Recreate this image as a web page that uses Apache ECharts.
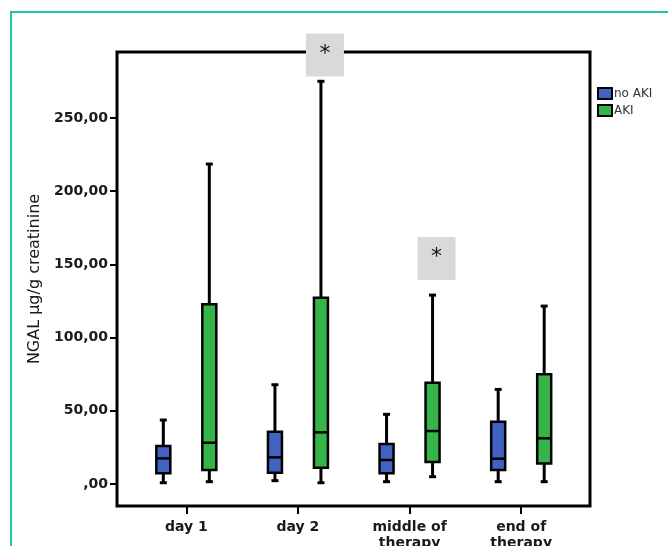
<!DOCTYPE html>
<html>
<head>
<meta charset="utf-8">
<script src="https://cdn.jsdelivr.net/npm/echarts@6/dist/echarts.min.js"></script>
<style>
html,body{margin:0;padding:0;background:#fff;}
#c{width:668px;height:546px;}
</style>
</head>
<body>
<div id="c"></div>
<script>
// ---- data ----
const categories = ['day 1', 'day 2', 'middle of\ntherapy', 'end of\ntherapy'];
// [min, q1, median, q3, max]
const noAKI = [
  [0.9, 7.3, 17.5, 26.0, 43.7],
  [2.3, 7.7, 18.2, 35.7, 67.8],
  [1.6, 7.3, 16.4, 27.3, 47.6],
  [1.6, 9.6, 17.3, 42.5, 64.6]
];
const AKI = [
  [1.6, 9.6, 28.2, 122.7, 218.5],
  [0.9, 11.1, 35.3, 127.2, 275.0],
  [5.0, 15.0, 36.2, 69.2, 129.0],
  [1.6, 14.1, 31.2, 75.0, 121.5]
];
const yTicks = [0, 50, 100, 150, 200, 250];
const yTickLabels = [',00', '50,00', '100,00', '150,00', '200,00', '250,00'];
const sigCategories = [1, 2];      // categories marked significant (*)
const sigLevels = [293, 154];      // vertical position of the * annotations

const chart = echarts.init(document.getElementById('c'));

function toRows(arr) { return arr.map((d, i) => [i].concat(d)); }

function boxRenderer(offset, color) {
  return function (params, api) {
    const c = api.value(0);
    const ys = [1, 2, 3, 4, 5].map(k => api.coord([c, api.value(k)])[1]);
    const x = api.coord([c, 0])[0] + offset;
    const half = 7, cap = 3.5;
    const [yMin, yQ1, yMed, yQ3, yMax] = ys;
    const ln = { stroke: '#000', lineWidth: 3 };
    return {
      type: 'group',
      children: [
        { type: 'line', shape: { x1: x, y1: yMax, x2: x, y2: yQ3 }, style: ln },
        { type: 'line', shape: { x1: x, y1: yQ1, x2: x, y2: yMin }, style: ln },
        { type: 'line', shape: { x1: x - cap, y1: yMax, x2: x + cap, y2: yMax }, style: ln },
        { type: 'line', shape: { x1: x - cap, y1: yMin, x2: x + cap, y2: yMin }, style: ln },
        { type: 'rect', shape: { x: x - half, y: yQ3, width: half * 2, height: yQ1 - yQ3 },
          style: { fill: color, stroke: '#000', lineWidth: 2.5 } },
        { type: 'line', shape: { x1: x - half, y1: yMed, x2: x + half, y2: yMed },
          style: { stroke: '#000', lineWidth: 2.5 } }
      ]
    };
  };
}

const BLUE = '#4162c2';
const GREEN = '#35b549';
const TXT = '#1a1a1a';

chart.setOption({
  animation: false,
  backgroundColor: '#fff',
  grid: { left: 130.5, right: 91, top: 52, bottom: 40, outerBoundsMode: 'none', containLabel: false },
  legend: {
    left: 592, top: 82, orient: 'vertical', itemGap: 4,
    itemWidth: 14, itemHeight: 11, icon: 'rect',
    textStyle: { fontFamily: 'DejaVu Sans', fontSize: 12, color: '#333', padding: [0, 0, 0, -3] },
    data: [
      { name: 'no AKI', itemStyle: { color: BLUE, borderColor: '#000', borderWidth: 2 } },
      { name: 'AKI', itemStyle: { color: GREEN, borderColor: '#000', borderWidth: 2 } }
    ]
  },
  xAxis: {
    type: 'category', data: categories, boundaryGap: true,
    axisLine: { show: false, onZero: false },
    axisTick: { show: true, alignWithLabel: true, length: 8, lineStyle: { color: '#000', width: 2 } },
    axisLabel: { margin: 13, fontFamily: 'DejaVu Sans', fontWeight: 'bold', fontSize: 14, color: TXT, lineHeight: 16 },
    splitLine: { show: false }
  },
  yAxis: {
    type: 'value', min: -15, max: 295, offset: 13.5,
    name: 'NGAL µg/g creatinine', nameLocation: 'middle', nameRotate: 90, nameGap: 74,
    nameTextStyle: { fontFamily: 'DejaVu Sans', fontSize: 16, color: TXT },
    axisLine: { show: false },
    axisTick: { show: true, length: 7, customValues: yTicks, lineStyle: { color: '#000', width: 2 } },
    axisLabel: {
      margin: 9, customValues: yTicks, fontFamily: 'DejaVu Sans', fontWeight: 'bold', fontSize: 14, color: TXT,
      formatter: v => yTickLabels[yTicks.indexOf(v)]
    },
    splitLine: { show: false }
  },
  graphic: [
    { type: 'rect', z: -10, shape: { x: 11, y: 12, width: 720, height: 600 },
      style: { fill: 'none', stroke: '#1fc2a3', lineWidth: 2 } },
    { type: 'rect', z: 0, shape: { x: 117, y: 52, width: 473, height: 454 },
      style: { fill: 'none', stroke: '#000', lineWidth: 3 } }
  ],
  series: [
    {
      name: 'no AKI', type: 'custom', z: 5,
      itemStyle: { color: BLUE, borderColor: '#000', borderWidth: 2 },
      encode: { x: 0, y: [1, 2, 3, 4, 5] },
      data: toRows(noAKI),
      renderItem: boxRenderer(-23, BLUE)
    },
    {
      name: 'AKI', type: 'custom', z: 5,
      itemStyle: { color: GREEN, borderColor: '#000', borderWidth: 2 },
      encode: { x: 0, y: [1, 2, 3, 4, 5] },
      data: toRows(AKI),
      renderItem: boxRenderer(23, GREEN),
      markPoint: {
        symbol: 'rect', symbolSize: [38, 43], symbolOffset: [27, 0],
        itemStyle: { color: '#d9d9d9', borderWidth: 0 },
        label: { show: true, formatter: '*', fontSize: 22, color: '#111', fontFamily: 'DejaVu Sans', offset: [0, -1] },
        data: sigCategories.map((c, i) => ({ coord: [c, sigLevels[i]] }))
      }
    }
  ]
});
</script>
</body>
</html>
